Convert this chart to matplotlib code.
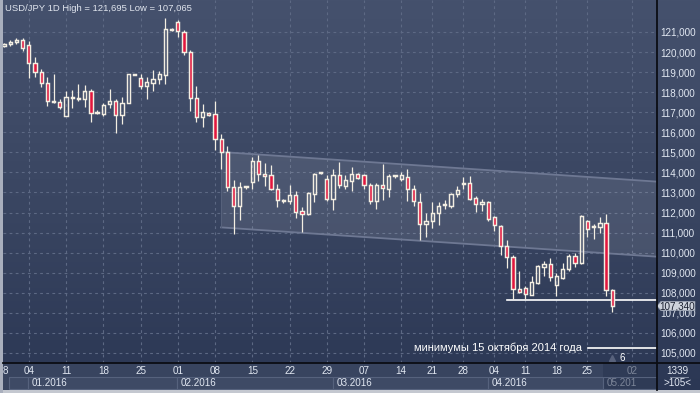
import numpy as np
import matplotlib
matplotlib.use("Agg")
import matplotlib.pyplot as plt
from matplotlib.patches import Rectangle, Polygon
from matplotlib.colors import LinearSegmentedColormap
from matplotlib.transforms import blended_transform_factory

# ---------------- data ----------------
bar_index = list(range(-4, 95))
opens = [120.30, 120.38, 120.50, 120.61, 120.36, 119.44, 119.02, 118.48, 117.53, 117.52,
         116.80, 117.72, 117.68, 117.66, 118.08, 116.98, 116.90, 117.39, 117.57, 116.87,
         117.45, 118.88, 118.73, 118.31, 118.46, 118.66, 118.87, 121.12, 121.48, 121.02,
         120.02, 117.73, 116.76, 116.98, 116.93, 115.68, 115.02, 113.28, 112.33, 113.26,
         113.52, 114.59, 113.94, 113.86, 113.19, 112.58, 112.58, 112.86, 112.06, 111.95,
         112.94, 113.95, 113.69, 112.67, 113.85, 113.33, 113.57, 113.93, 113.85, 113.39,
         112.59, 113.39, 113.18, 113.80, 113.69, 113.77, 113.15, 112.55, 111.44, 111.57,
         111.97, 112.36, 112.35, 112.90, 113.44, 113.45, 112.71, 112.41, 112.55, 111.77,
         111.31, 110.32, 109.77, 108.19, 108.25, 107.91, 108.49, 109.31, 109.43, 108.38,
         108.75, 109.18, 109.84, 109.48, 111.57, 111.26, 111.29, 111.48, 108.16]
highs = [120.45, 120.58, 120.70, 120.70, 120.53, 119.77, 119.18, 118.76, 118.90, 117.64,
         118.06, 118.09, 118.40, 118.38, 118.14, 117.12, 117.45, 118.14, 117.66, 117.76,
         118.93, 118.92, 118.90, 118.76, 119.10, 119.07, 121.695, 121.20, 121.60, 121.12,
         120.09, 118.30, 117.43, 117.02, 117.55, 115.90, 115.30, 113.61, 113.54, 113.31,
         114.77, 114.89, 114.49, 114.36, 113.41, 112.69, 113.39, 113.06, 112.28, 113.03,
         113.99, 114.00, 113.86, 114.18, 114.54, 113.89, 114.26, 113.98, 113.93, 113.49,
         113.49, 114.43, 113.93, 113.89, 114.02, 114.15, 113.36, 112.96, 111.97, 112.51,
         112.51, 112.63, 112.99, 113.34, 113.75, 113.83, 112.84, 112.66, 112.60, 111.83,
         111.39, 110.63, 109.89, 109.10, 108.33, 108.82, 109.39, 109.56, 109.72, 108.98,
         109.48, 109.92, 109.97, 111.86, 111.62, 111.45, 111.78, 111.94, 108.19]
lows = [120.25, 120.31, 120.38, 120.03, 118.73, 118.76, 118.26, 117.32, 117.47, 117.18,
        116.80, 117.20, 117.54, 117.25, 116.50, 116.92, 116.83, 117.22, 115.96, 116.41,
        117.45, 118.86, 118.18, 117.64, 118.06, 118.43, 118.43, 121.05, 120.77, 119.87,
        117.08, 116.50, 116.26, 116.80, 115.10, 114.19, 113.06, 110.95, 111.61, 113.16,
        113.19, 113.57, 113.31, 113.10, 112.28, 112.49, 112.45, 111.73, 111.03, 111.86,
        112.53, 113.92, 112.60, 112.13, 113.20, 113.15, 113.08, 113.69, 113.16, 112.43,
        112.18, 112.62, 112.75, 113.74, 113.57, 112.59, 112.34, 110.64, 110.78, 111.22,
        111.36, 112.17, 112.21, 112.79, 113.16, 112.63, 112.02, 112.10, 111.60, 111.10,
        109.90, 109.25, 107.70, 108.00, 107.67, 107.87, 108.46, 108.85, 108.57, 107.83,
        108.70, 109.10, 109.31, 109.44, 110.80, 110.66, 110.99, 107.83, 107.065]
closes = [120.40, 120.51, 120.61, 120.19, 119.44, 119.02, 118.46, 117.57, 117.55, 117.25,
          117.77, 117.76, 117.72, 118.08, 116.97, 117.00, 117.37, 117.57, 116.87, 117.47,
          118.90, 118.90, 118.31, 118.50, 118.68, 118.90, 121.13, 121.15, 121.05, 120.02,
          117.73, 116.76, 116.99, 116.86, 115.67, 115.02, 113.28, 112.33, 113.28, 113.28,
          114.59, 113.94, 113.82, 113.19, 112.64, 112.63, 112.86, 112.05, 111.95, 112.98,
          113.94, 113.97, 112.67, 113.85, 113.36, 113.60, 113.93, 113.74, 113.39, 112.59,
          113.39, 113.20, 113.80, 113.85, 113.85, 113.15, 112.57, 111.44, 111.57, 111.97,
          112.35, 112.38, 112.91, 113.12, 113.47, 112.68, 112.41, 112.55, 111.67, 111.39,
          110.35, 109.78, 108.19, 108.05, 107.95, 108.52, 109.35, 109.43, 108.77, 108.85,
          109.18, 109.84, 109.48, 111.81, 111.17, 111.29, 111.48, 108.13, 107.34]

price_ticks = list(range(105, 122))
day_tick_pos = [0, 6, 12, 18, 24, 30, 36, 42, 48, 54, 60, 65, 70, 75, 80, 85, 90]
day_tick_lbl = ["04", "11", "18", "25", "01", "08", "15", "22", "29", "07", "14",
                "21", "28", "04", "11", "18", "25"]
edge_tick_pos = -3.75
edge_tick_lbl = "8"
future_tick_pos = 97.2
future_tick_lbl = "02"
month_starts = [-3.2, -0.13, 23.87, 49.0, 73.98, 92.5]
month_ends = [-0.13, 23.87, 49.0, 73.98, 92.5, 101.2]
month_lbls = ["", "01.2016", "02.2016", "03.2016", "04.2016", "05.201"]

channel_x = [30.96, 101.2]
channel_upper = [115.02, 113.54]
channel_lower = [111.26, 109.80]
support_level = 107.62
support_start = 77
min2014_level = 105.26
min2014_start = 90.1
min2014_text = "минимумы 15 октября 2014 года"
title = "USD/JPY 1D High = 121,695 Low = 107,065"

# ---------------- figure ----------------
W, H = 700, 393
fig = plt.figure(figsize=(W / 100, H / 100), dpi=100)
FONT = "Liberation Sans"
plt.rcParams["font.family"] = [FONT, "DejaVu Sans"]
FS = 7.1

# background gradient
bg = fig.add_axes([0, 0, 1, 1])
bg.set_axis_off()
grad = np.linspace(0, 1, 256).reshape(-1, 1)
cmap = LinearSegmentedColormap.from_list("bg", ["#45516d", "#3a4662", "#2b3754"])
bg.imshow(grad, aspect="auto", cmap=cmap, extent=[0, 1, 0, 1], origin="upper")
bg.set_xlim(0, 1)
bg.set_ylim(0, 1)

x0_px, x1_px = 3, 657
ytop_px, ybot_px = 0, 363
xlim = (-4.161, 101.2)
ylim = (104.50, 122.595)

ax = fig.add_axes([x0_px / W, (H - ybot_px) / H, (x1_px - x0_px) / W, (ybot_px - ytop_px) / H])
ax.set_facecolor("none")
ax.set_xlim(*xlim)
ax.set_ylim(*ylim)
for s in ["top", "left", "bottom", "right"]:
    ax.spines[s].set_visible(False)

grid_col = "#5d6984"
for v in price_ticks:
    ax.axhline(v, color=grid_col, lw=0.8, ls=(0, (2.5, 3)), zorder=1)
for p in day_tick_pos + [future_tick_pos]:
    ax.axvline(p, color=grid_col, lw=0.8, ls=(0, (2.5, 3)), zorder=1)

# channel
poly = Polygon([(channel_x[0], channel_upper[0]), (channel_x[1], channel_upper[1]),
                (channel_x[1], channel_lower[1]), (channel_x[0], channel_lower[0])],
               closed=True, facecolor="white", alpha=0.09, edgecolor="none", zorder=1.5)
ax.add_patch(poly)
ax.plot(channel_x, channel_upper, color="#6e7893", lw=1.3, zorder=1.6)
ax.plot(channel_x, channel_lower, color="#6e7893", lw=1.3, zorder=1.6)
ax.plot([channel_x[0], channel_x[0]], [channel_lower[0], channel_upper[0]],
        color="#56617b", lw=0.8, zorder=1.6)

# candles
x = np.array(bar_index, dtype=float)
o = np.array(opens); h = np.array(highs); l = np.array(lows); c = np.array(closes)
top = np.maximum(o, c); bot = np.minimum(o, c)
edge = "#f3eee2"
ax.vlines(x, top, h, color=edge, lw=0.9, zorder=3)
ax.vlines(x, l, bot, color=edge, lw=0.9, zorder=3)
height = np.maximum(top - bot, 0.05)
up = c >= o
ax.bar(x[up], height[up], bottom=bot[up], width=0.52, facecolor="none",
       edgecolor=edge, linewidth=1.05, zorder=4)
ax.bar(x[~up], height[~up], bottom=bot[~up], width=0.52, facecolor="#e2163d",
       edgecolor=edge, linewidth=1.05, zorder=4)

# horizontal levels
ax.plot([support_start, xlim[1]], [support_level, support_level], color="white", lw=1.2, zorder=2.5)
ax.plot([min2014_start, xlim[1]], [min2014_level, min2014_level], color="white", lw=1.2, zorder=2.5)
ax.text(89.07, min2014_level, min2014_text, color="white", fontsize=8, ha="right", va="center", zorder=5)

# marker at bottom
ax.plot([bar_index[-1]], [104.76], marker="^", color="#58627c", ms=5, zorder=5, clip_on=False)
ax.text(95.2, 104.74, "6", color="white", fontsize=FS, ha="left", va="center", zorder=5)

# right price axis
ax.yaxis.tick_right()
ax.set_yticks(price_ticks)
ax.set_yticklabels([f"{v},000" for v in price_ticks])
ax.tick_params(axis="y", length=0, pad=2.5, labelsize=FS, labelcolor="#e2e8f2")
ax.set_xticks([])

# current price tag
tr = blended_transform_factory(ax.transAxes, ax.transData)
cp = closes[-1]
hh = 0.23
aw = 4 / (x1_px - x0_px)
tag = Polygon([(1.0, cp), (1.0 + aw, cp + hh), (1.058, cp + hh), (1.058, cp - hh), (1.0 + aw, cp - hh)],
              closed=True, transform=tr, facecolor="#cdd2db", edgecolor="#9aa2b2", lw=0.5,
              clip_on=False, zorder=10)
ax.add_patch(tag)
ax.text(1.031, cp, f"{cp:.3f}".replace(".", ","), transform=tr, fontsize=FS, color="#1a2030",
        ha="center", va="center", zorder=11, clip_on=False)

# title
fig.text(5 / W, 1 - 8.5 / H, title, color="#e0e5ee", fontsize=6.8, ha="left", va="center")

# bottom date panel
bx = fig.add_axes([x0_px / W, (H - 390) / H, (x1_px - x0_px) / W, 27 / H])
bx.set_facecolor("#38445f")
bx.set_xlim(*xlim)
bx.set_ylim(0, 1)
bx.set_xticks([]); bx.set_yticks([])
for s in bx.spines.values():
    s.set_visible(False)
for s0, s1, lbl in zip(month_starts, month_ends, month_lbls):
    fc = "#2f3b56" if lbl == month_lbls[-1] else "#3e4a65"
    bx.add_patch(Rectangle((s0, 0.03), s1 - s0, 0.46, facecolor=fc, edgecolor="#56627d", lw=0.8, zorder=1))
    if lbl:
        col = "#7d8699" if lbl == month_lbls[-1] else "#e2e8f2"
        bx.text(s0 + 0.6, 0.26, lbl, color=col, fontsize=FS, ha="left", va="center", zorder=3)
bx.add_patch(Rectangle((92.5, 0.49), 101.2 - 92.5, 0.51, facecolor="#2f3b56", edgecolor="none", zorder=1))
for p, lbl in zip(day_tick_pos, day_tick_lbl):
    bx.text(p, 0.7, lbl, color="#e2e8f2", fontsize=FS, ha="center", va="center", zorder=3)
bx.text(edge_tick_pos, 0.7, edge_tick_lbl, color="#e2e8f2", fontsize=FS, ha="center", va="center", zorder=3)
bx.text(future_tick_pos, 0.7, future_tick_lbl, color="#7d8699", fontsize=FS, ha="center", va="center", zorder=3)

# right-bottom info box
fig.add_artist(Rectangle((657 / W, (H - 390) / H), 43 / W, 27 / H, facecolor="#38445f", edgecolor="none",
                         transform=fig.transFigure, zorder=0))
fig.text(677 / W, 1 - 371 / H, "1339", color="#e2e8f2", fontsize=FS, ha="center", va="center")
fig.text(677 / W, 1 - 383 / H, ">105<", color="#e2e8f2", fontsize=FS, ha="center", va="center")
fig.add_artist(plt.Line2D([670 / W, 688 / W], [1 - 376.5 / H, 1 - 376.5 / H], color="#8a93a8", lw=0.6))

# frame lines
fig.add_artist(plt.Line2D([x0_px / W, 1], [1 - 363 / H, 1 - 363 / H], color="#0b0d14", lw=1.3))
fig.add_artist(plt.Line2D([657 / W, 657 / W], [1 - 390 / H, 1], color="#0b0d14", lw=1.3))
fig.add_artist(Rectangle((0, 0), 1, 3 / H, facecolor="#c4c8d0", edgecolor="none", transform=fig.transFigure))
fig.add_artist(Rectangle((0, 0), 2.5 / W, 1, facecolor="#a9afbd", edgecolor="none", transform=fig.transFigure))

fig.savefig("out.png", dpi=100)
